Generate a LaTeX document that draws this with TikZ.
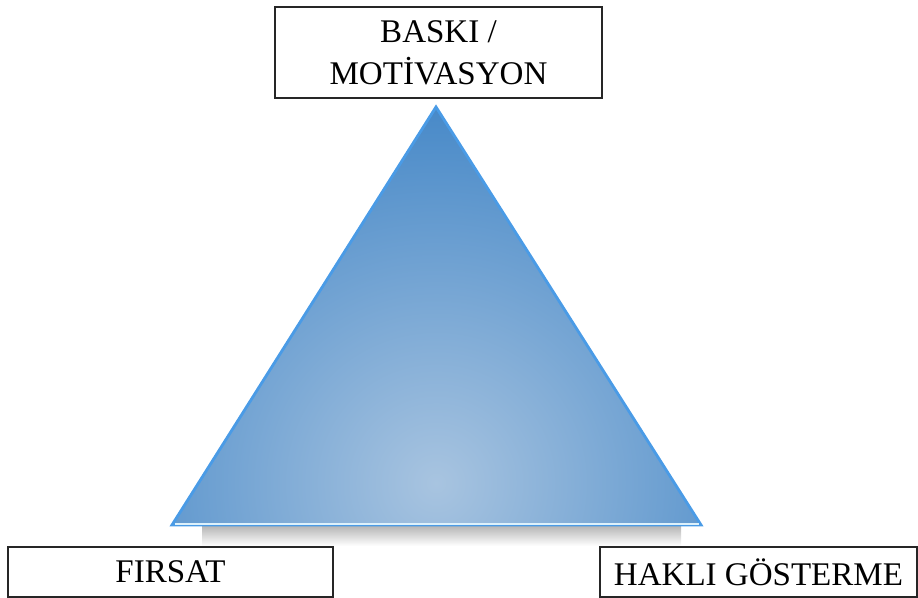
\documentclass[tikz,border=0pt]{standalone}
\usepackage{fontspec}
\setmainfont{Liberation Serif}
\usepackage{xcolor}
\usepackage{tikz}
\usetikzlibrary{calc}
\definecolor{triEdge}{HTML}{4A9BE6}
\definecolor{triOuter}{HTML}{3F84C6}
\definecolor{triInner}{HTML}{A8C4E0}
\definecolor{baseGlow}{HTML}{DDF1FB}
\tikzset{
  labelbox/.style = {rectangle, draw=black!85, fill=white, line width=0.8pt,
                     align=center, font=\fontsize{18.8}{24}\selectfont,
                     inner sep=2pt},
  rim/.style      = {draw=triEdge, line width=1.6pt, line join=miter},
}
\begin{document}
\begin{tikzpicture}
    \useasboundingbox (0,0) rectangle (18.36,11.96);

    %% triangle corners
    \coordinate (apex)  at (8.72, 9.82);
    \coordinate (left)  at (3.44, 1.46);
    \coordinate (right) at (14.02, 1.46);

    %% shadow under the base
    \shade[top color=black!30, bottom color=white]
         ($(left)+(0.6,0)$) rectangle ($(right)+(-0.4,-0.42)$);

    %% shaded body
    \begin{scope}
      \clip (apex) -- (left) -- (right) -- cycle;
      \shade[inner color=triInner, outer color=triOuter] (8.72, 2.3) circle (8.2);
    \end{scope}
    \draw[rim] (apex) -- (left) -- (right) -- cycle;
    \draw[draw=baseGlow, line width=1.2pt] ($(left)+(0.05,0.02)$) -- ($(right)+(-0.05,0.02)$);

    %% labels
    \node[labelbox, minimum width=6.54cm, minimum height=1.82cm] (baski)  at (8.77, 10.91) {BASKI /\\MOTİVASYON};
    \node[labelbox, minimum width=6.50cm, minimum height=1.00cm] (firsat) at (3.41, 0.52)  {FIRSAT};
    \node[labelbox, minimum width=6.34cm, minimum height=1.00cm] (hakli)  at (15.17, 0.52) {HAKLI GÖSTERME};

\end{tikzpicture}
\end{document}
